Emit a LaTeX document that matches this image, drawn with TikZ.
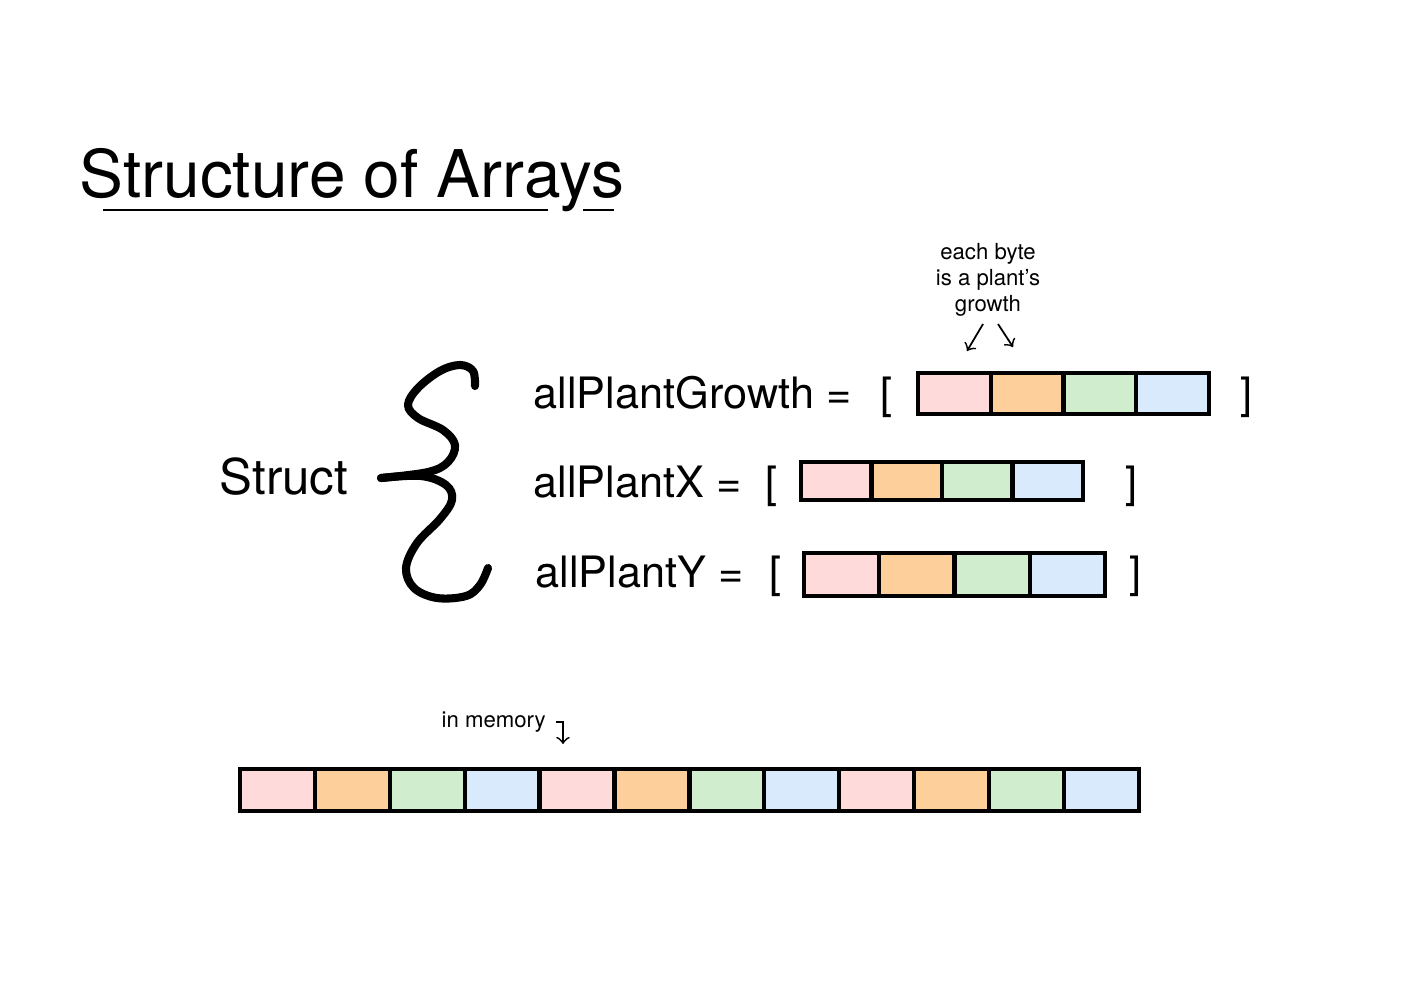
\documentclass[tikz,border=0pt]{standalone}
\usepackage{fontspec}
\setmainfont{TeX Gyre Heros}
\usetikzlibrary{arrows}

\definecolor{bytepink}{HTML}{FFDADB}
\definecolor{bytepeach}{HTML}{FDCF9A}
\definecolor{bytemint}{HTML}{D0EDCE}
\definecolor{bytesky}{HTML}{D8EAFC}

\begin{document}
\begin{tikzpicture}[x=0.01cm,y=-0.01cm,>=to,
                    cell/.style={draw,line width=1.2pt,inner sep=0pt},
                    lbl/.style={anchor=base west,inner sep=0pt,
                                font=\fontsize{12.3}{14}\selectfont},
                    note/.style={align=center,inner sep=0pt,
                                 font=\fontsize{6.3}{7.4}\selectfont},
                    brace/.style={line width=2.3pt,line cap=round,line join=round}]

  \useasboundingbox (0,0) rectangle (1416,1000);

  % title
  \node[anchor=base west,inner sep=0pt,font=\fontsize{18.7}{21}\selectfont]
        (title) at (79,197) {Structure of Arrays};
  \draw[line width=0.6pt] (103,210) -- (548,210)
                          (583,210) -- (614,210);

  % struct and its brace
  \node[lbl,font=\fontsize{14}{16}\selectfont] (struct) at (219,494) {Struct};
  \draw[brace] plot[smooth,tension=0.6] coordinates {
      (475,386) (473,371) (460,365) (440,371) (418,388) (408,405)
      (418,418) (443,430) (455,445) (448,462) (428,472) (381,478)};
  \draw[brace] plot[smooth,tension=0.6] coordinates {
      (381,478) (421,476) (446,485) (452,500) (440,519) (417,543)
      (406,568) (414,588) (437,598) (466,596) (480,585) (488,568)};

  % the three arrays
  \node[lbl] (growth) at (533,408) {allPlantGrowth =};
  \node[lbl] (plantx) at (533,497) {allPlantX =};
  \node[lbl] (planty) at (535,587) {allPlantY =};

  \node[lbl] (gopen)  at (880,408)  {[};
  \node[lbl] (gclose) at (1240,408) {]};
  \node[lbl] (xopen)  at (765,497)  {[};
  \node[lbl] (xclose) at (1125,497) {]};
  \node[lbl] (yopen)  at (769,587)  {[};
  \node[lbl] (yclose) at (1129,587) {]};

  \foreach \i/\c in {1/bytepink,2/bytepeach,3/bytemint,4/bytesky} {
    \node[cell,fill=\c,minimum width=0.7275cm,minimum height=0.41cm]
          (g\i) at ({918+72.75*(\i-0.5)},393.5) {};
    \node[cell,fill=\c,minimum width=0.705cm,minimum height=0.38cm]
          (x\i) at ({801+70.5*(\i-0.5)},481) {};
    \node[cell,fill=\c,minimum width=0.7525cm,minimum height=0.43cm]
          (y\i) at ({804+75.25*(\i-0.5)},574.5) {};
  }

  % annotation
  \node[note] (each) at (988,280) {each byte\\is a plant’s\\growth};
  \coordinate (eachl) at (983,324);
  \coordinate (eachr) at (998,324);
  \coordinate (bytel) at (967,351);
  \coordinate (byter) at (1013,347);
  \draw[->,line width=0.5pt] (eachl) -- (bytel);
  \draw[->,line width=0.5pt] (eachr) -- (byter);

  % memory layout
  \node[note,anchor=base west] (mem) at (441,727) {in memory};
  \coordinate (memhook) at (556,722);
  \coordinate (membend) at (563,722);
  \coordinate (memdown) at (563,744);
  \draw[->,line width=0.5pt] (memhook) -- (membend) -- (memdown);

  \foreach \i/\c in {1/bytepink,2/bytepeach,3/bytemint,4/bytesky,
                     5/bytepink,6/bytepeach,7/bytemint,8/bytesky,
                     9/bytepink,10/bytepeach,11/bytemint,12/bytesky} {
    \node[cell,fill=\c,minimum width=0.749cm,minimum height=0.42cm]
          (m\i) at ({240+74.9*(\i-0.5)},790) {};
  }
\end{tikzpicture}
\end{document}
